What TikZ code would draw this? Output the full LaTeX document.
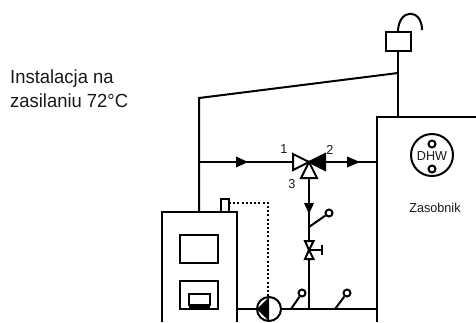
\documentclass[tikz,border=0pt]{standalone}
\usepackage{fontspec}
\setmainfont[FakeStretch=0.97]{Liberation Sans}
\usetikzlibrary{arrows.meta}
\tikzset{
  pipe/.style={line width=2pt,draw=black},
  txt/.style={inner sep=0pt,font=\fontsize{19}{24}\selectfont,text=black!90},
  small/.style={inner sep=0pt,font=\fontsize{13}{15}\selectfont,text=black!90},
  ring/.style={circle,draw=black,line width=2pt,fill=white,minimum size=7pt,inner sep=0pt},
  flow/.style={fill=black,draw=none},
  sig/.style={line width=2pt,dash pattern=on 2pt off 2.2pt},
  box/.style={draw=black,line width=2pt,inner sep=0pt},
}
\begin{document}
\begin{tikzpicture}[x=1pt,y=-1pt]
\useasboundingbox (0,0) rectangle (476,322);
% anchors
\coordinate (tl) at (199,98);
\coordinate (tee) at (398,73);
\coordinate (vc) at (309,162);
\coordinate (bo) at (199,212);
\coordinate (tin) at (377,162);
\coordinate (jh) at (199,162);
\coordinate (tb) at (377,309);
\coordinate (ttop) at (398,117);
% tank
\draw[pipe] (377,322) -- (377,117) -- (476,117);
% boiler
\draw[pipe] (162,322) -- (162,212) -- (237,212) -- (237,322);
\node[box,minimum width=38pt,minimum height=28pt] (win) at (199,249) {};
\node[box,minimum width=38pt,minimum height=28pt] (door) at (199,295) {};
\node[box,minimum width=21pt,minimum height=11pt] (ash) at (199.5,299.5) {};
\draw[pipe] (189,307) -- (210,307);
\node[box,minimum width=8pt,minimum height=13pt] (sens) at (225,205.5) {};
% supply pipes
\draw[pipe] (bo) -- (tl) -- (tee);
\node[box,fill=white,minimum width=25pt,minimum height=19pt] (vent) at (398.5,41.5) {};
\draw[pipe] (ttop) -- (398,51);
\draw[pipe] (398,32) .. controls (398,8) and (422,8) .. (422,30);
\draw[pipe] (jh) -- (vc);
\draw[pipe] (vc) -- (tin);
\draw[pipe] (vc) -- (309,309);
% flow arrows
\fill[flow] (248,162) -- (236,156.5) -- (236,167.5) -- cycle;
\fill[flow] (360,162) -- (347,156.5) -- (347,167.5) -- cycle;
\fill[flow] (309,214) -- (304,203) -- (314,203) -- cycle;
% three-way valve
\draw[pipe,fill=white] (vc) -- (293,154) -- (293,170) -- cycle;
\fill[black,draw=black,line width=2pt,line join=miter] (vc) -- (325,154) -- (325,170) -- cycle;
\draw[pipe,fill=white] (vc) -- (301,178) -- (317,178) -- cycle;
\node[small] (n1) at (284,149) {1};
\node[small] (n2) at (330,150) {2};
\node[small] (n3) at (292,184) {3};
% switch on riser
\node[ring] (s1) at (329,213) {};
\draw[pipe] (309,227) -- (s1);
% shut-off valve
\coordinate (sv) at (309,250);
\draw[pipe,fill=white] (sv) -- (305,241) -- (313.5,241) -- cycle;
\draw[pipe,fill=white] (sv) -- (305,259) -- (313.5,259) -- cycle;
\draw[pipe] (sv) -- (322,250);
\draw[pipe] (322,245) -- (322,255);
% return pipe
\draw[pipe] (237,309) -- (257,309);
\draw[pipe] (281,309) -- (tb);
\node[ring] (s2) at (302,293) {};
\node[ring] (s3) at (347,293) {};
\draw[pipe] (291,309) -- (s2);
\draw[pipe] (335,309) -- (s3);
% pump
\node[circle,draw=black,line width=2pt,fill=white,minimum size=24pt,inner sep=0pt] (pump) at (269,309) {};
\fill[black] (257,309) -- (269,297) -- (269,321) -- cycle;
% signal
\draw[sig] (229,203) -- (268,203) -- (268,297);
% DHW
\node[circle,draw=black,line width=2pt,minimum size=42pt,inner sep=0pt] (dhw) at (432,155) {};
\node[small] (dhwt) at (432,156) {DHW};
\node[ring] at (432,144) (c1) {};
\node[ring] at (432,169) (c2) {};
\node[small] (zas) at (435,208) {Zasobnik};
% heading
\node[txt,anchor=base west] (h1) at (10,83) {Instalacja na};
\node[txt,anchor=base west] (h2) at (10,107) {zasilaniu 72°C};
\end{tikzpicture}
\end{document}
